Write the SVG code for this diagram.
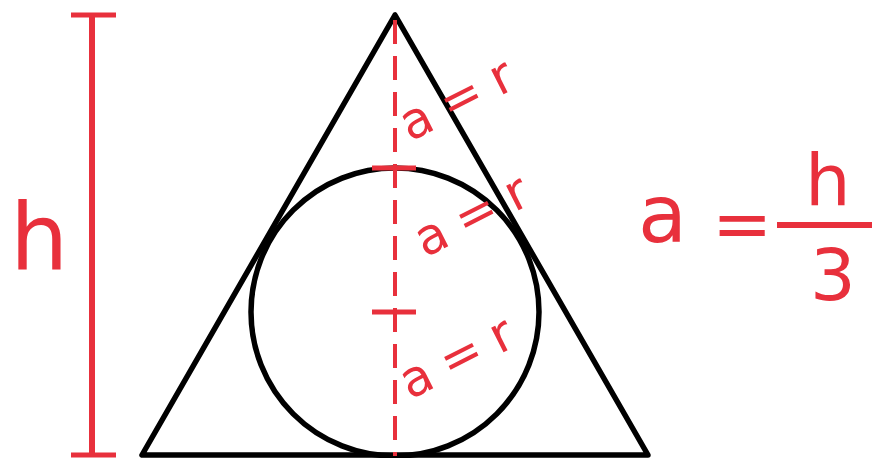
<svg xmlns="http://www.w3.org/2000/svg" width="872" height="458" viewBox="0 0 872 458">
<style>
.blk{fill:none;stroke:#000;stroke-width:5.5;stroke-linejoin:round}
.red{stroke:#e8303c;fill:none}
.t{fill:#e8303c;font-family:"DejaVu Sans",sans-serif}
.lab{font-size:50px;letter-spacing:14px}
</style>
<rect width="872" height="458" fill="#fff"/>
<g id="height-bar">
<line class="red" x1="92" y1="15" x2="92" y2="455" stroke-width="6"/>
<line class="red" x1="71" y1="15" x2="116" y2="15" stroke-width="5"/>
<line class="red" x1="71" y1="455" x2="116" y2="455" stroke-width="5"/>
<text class="t" x="10" y="270" font-size="92">h</text>
</g>
<g id="triangle">
<polygon class="blk" points="395,15 142,455 648,455"/>
</g>
<g id="circle">
<circle class="blk" cx="395" cy="312" r="144"/>
</g>
<g id="connectors">
<line class="red" x1="395" y1="20" x2="395" y2="456" stroke-width="4" stroke-dasharray="24,12"/>
<line class="red" x1="372" y1="168" x2="416" y2="168" stroke-width="5"/>
<line class="red" x1="372" y1="312" x2="416" y2="312" stroke-width="5"/>
</g>
<g id="labels">
<text class="t lab" transform="translate(410,142) rotate(-27)">a=r</text>
<text class="t lab" transform="translate(425,258) rotate(-27)">a=r</text>
<text class="t lab" transform="translate(410,400) rotate(-27)">a=r</text>
</g>
<g id="formula">
<text class="t" x="638" y="242" font-size="80">a</text>
<text class="t" x="712" y="248" font-size="72">=</text>
<line class="red" x1="777" y1="225" x2="872" y2="225" stroke-width="6"/>
<text class="t" x="805" y="205" font-size="72">h</text>
<text class="t" x="810" y="300" font-size="72">3</text>
</g>
</svg>
